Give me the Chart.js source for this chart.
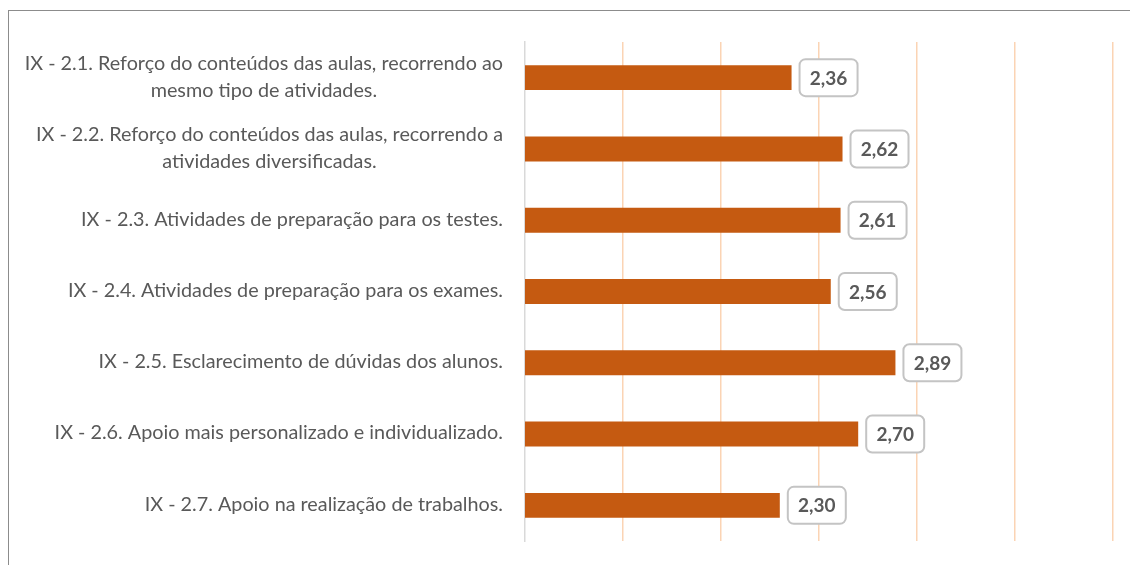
<!DOCTYPE html>
<html>
<head>
<meta charset="utf-8">
<script src="https://cdn.jsdelivr.net/npm/chart.js@4/dist/chart.umd.min.js"></script>
<style>
  html, body { margin: 0; padding: 0; background: #fff; }
  #wrap { position: relative; width: 1130px; height: 565px; }
  #frame { position: absolute; left: 8px; top: 10px; right: 0; bottom: 0;
           border-left: 1.5px solid #8c8c8c; border-top: 1.5px solid #8c8c8c; }
  canvas { position: absolute; left: 0; top: 0; }
</style>
</head>
<body>
<div id="wrap">
  <div id="frame"></div>
  <canvas id="c" width="1130" height="565"></canvas>
</div>
<script>
const categories = [
  ["IX - 2.1. Reforço do conteúdos das aulas, recorrendo ao", "mesmo tipo de atividades."],
  ["IX - 2.2. Reforço do conteúdos das aulas, recorrendo a", "atividades diversificadas."],
  ["IX - 2.3. Atividades de preparação para os testes."],
  ["IX - 2.4. Atividades de preparação para os exames."],
  ["IX - 2.5. Esclarecimento de dúvidas dos alunos."],
  ["IX - 2.6. Apoio mais personalizado e individualizado."],
  ["IX - 2.7. Apoio na realização de trabalhos."]
];
const values = [2.36, 2.62, 2.61, 2.56, 2.89, 2.70, 2.30];
const xMin = 1, xMax = 4, xStep = 0.5;

const labelFont = '19.8px Lato';
const labelColor = '#595959';

const customDraw = {
  id: 'customDraw',
  afterDatasetsDraw(chart) {
    const ctx = chart.ctx;
    const y = chart.scales.y;
    const meta = chart.getDatasetMeta(0);
    ctx.save();
    ctx.font = labelFont;
    ctx.fillStyle = labelColor;
    ctx.textBaseline = 'middle';
    ctx.textAlign = 'center';
    const rightEdge = chart.chartArea.left - 22;
    const lineH = 27;
    categories.forEach((lines, i) => {
      const cy = y.getPixelForValue(i);
      const maxW = Math.max(...lines.map(l => ctx.measureText(l).width));
      const cx = rightEdge - maxW / 2;
      const start = cy - (lines.length - 1) * lineH / 2;
      lines.forEach((l, j) => ctx.fillText(l, cx, start + j * lineH - 1));
    });
    ctx.font = 'bold 19px Lato';
    meta.data.forEach((bar, i) => {
      const bx = bar.x + 8, bw = 58, bh = 37;
      const by = bar.y - bh / 2;
      ctx.beginPath();
      ctx.roundRect(bx, by, bw, bh, 6);
      ctx.fillStyle = '#ffffff';
      ctx.fill();
      ctx.lineWidth = 2;
      ctx.strokeStyle = '#c4c4c4';
      ctx.stroke();
      ctx.fillStyle = '#595959';
      ctx.textAlign = 'center';
      ctx.fillText(values[i].toFixed(2).replace('.', ','), bx + bw / 2, bar.y + 1);
    });
    ctx.restore();
  }
};

new Chart(document.getElementById('c'), {
  type: 'bar',
  data: {
    labels: categories.map(c => c.join(' ')),
    datasets: [{
      data: values,
      backgroundColor: '#c55a11',
      barPercentage: 0.35,
      categoryPercentage: 1.0
    }]
  },
  options: {
    indexAxis: 'y',
    responsive: false,
    animation: false,
    layout: { padding: { left: 0, right: 17, top: 42, bottom: 24 } },
    plugins: { legend: { display: false }, tooltip: { enabled: false } },
    scales: {
      x: {
        min: xMin, max: xMax,
        ticks: { display: false, stepSize: xStep },
        border: { display: false },
        grid: {
          drawTicks: false,
          lineWidth: 1.5,
          color: ctx => (ctx.tick && ctx.tick.value === xMin) ? 'rgba(0,0,0,0)' : '#fbd4b4'
        },
        afterFit: s => { s.height = 0; }
      },
      y: {
        ticks: { display: false },
        grid: { display: false, drawTicks: false },
        border: { display: true, color: '#d9d9d9', width: 1.5 },
        afterFit: s => { s.width = 525; }
      }
    }
  },
  plugins: [customDraw]
});
</script>
</body>
</html>
